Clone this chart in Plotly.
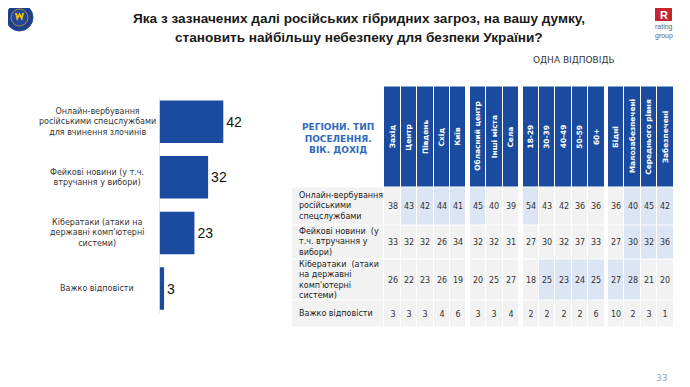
import plotly.graph_objects as go

W, H = 690, 387

# ---------------- data ----------------
title_lines = ["Яка з зазначених далі російських гібридних загроз, на вашу думку,",
               "становить найбільшу небезпеку для безпеки України?"]
bar_labels = ["Онлайн-вербування<br>російськими спецслужбами<br>для вчинення злочинів",
              "Фейкові новини (у т.ч.<br>втручання у вибори)",
              "Кібератаки (атаки на<br>державні комп'ютерні<br>системи)",
              "Важко відповісти"]
bar_values = [42, 32, 23, 3]

row_labels = ["Онлайн-вербування<br>російськими<br>спецслужбами",
              "Фейкові новини  (у<br>т.ч. втручання у<br>вибори)",
              "Кібератаки  (атаки<br>на державні<br>комп'ютерні<br>системи)",
              "Важко відповісти"]
col_groups = [["Захід", "Центр", "Південь", "Схід", "Київ"],
              ["Обласний центр", "Інші міста", "Села"],
              ["18-29", "30-39", "40-49", "50-59", "60+"],
              ["Бідні", "Малозабезпечені", "Середнього рівня", "Забезпечені"]]
table_values = [
    [38, 43, 42, 44, 41, 45, 40, 39, 54, 43, 42, 36, 36, 36, 40, 45, 42],
    [33, 32, 32, 26, 34, 32, 32, 31, 27, 30, 32, 37, 33, 27, 30, 32, 36],
    [26, 22, 23, 26, 19, 20, 25, 27, 18, 25, 23, 24, 25, 27, 28, 21, 20],
    [3, 3, 3, 4, 6, 3, 3, 4, 2, 2, 2, 2, 6, 10, 2, 3, 1],
]
highlight = [
    [0, 1, 1, 1, 1, 1, 0, 0, 1, 0, 0, 0, 0, 0, 1, 1, 1],
    [0, 0, 0, 0, 0, 0, 0, 0, 0, 0, 0, 0, 0, 0, 1, 1, 1],
    [0, 0, 0, 0, 0, 0, 0, 0, 0, 1, 1, 1, 1, 1, 1, 0, 0],
    [0, 0, 0, 0, 0, 0, 0, 0, 0, 0, 0, 0, 0, 0, 0, 0, 0],
]
table_title = "РЕГІОНИ. ТИП<br>ПОСЕЛЕННЯ.<br>ВІК. ДОХІД"
note_text = "ОДНА ВІДПОВІДЬ"
page_no = "33"

# ---------------- styles / layout constants ----------------
BLUE = "#1a4b9f"
GRAY = "#f2f2f2"
LIGHT = "#dbe5f4"
TXT = "#333333"
FONT = "DejaVu Sans"
OX, OY = 8, 8   # page body margin of the html page

LABEL_X0, LABEL_X1 = 292.0, 383.6
COL0, PITCH, GGAP = 384.3, 16.4, 3.5
ROW_EDGES = [86.5, 187.0, 225.0, 259.0, 300.0, 327.0]

# ---------------- build table heatmap ----------------
x_edges = [LABEL_X0, COL0]
col_centers = []
col_src = []      # index into data columns, or None for group gaps
x = COL0
ci = 0
for gi, g in enumerate(col_groups):
    for _ in g:
        col_centers.append(x + PITCH / 2)
        x += PITCH
        x_edges.append(x)
        col_src.append(ci)
        ci += 1
    if gi < len(col_groups) - 1:
        x += GGAP
        x_edges.append(x)
        col_src.append(None)

z, txt = [], []
z.append([None] + [None if s is None else 2 for s in col_src])
txt.append([""] * (len(col_src) + 1))
for r in range(len(table_values)):
    zr, tr = [0], [""]
    for s in col_src:
        if s is None:
            zr.append(None); tr.append("")
        else:
            zr.append(highlight[r][s]); tr.append(str(table_values[r][s]))
    z.append(zr); txt.append(tr)

fig = go.Figure()

fig.add_trace(go.Heatmap(
    x=x_edges, y=ROW_EDGES, z=z, text=txt, texttemplate="%{text}",
    textfont=dict(family=FONT, size=8, color=TXT),
    colorscale=[[0, GRAY], [0.5, LIGHT], [1, BLUE]], zmin=0, zmax=2,
    showscale=False, xgap=1, ygap=1, hoverinfo="skip",
    xaxis="x2", yaxis="y2"))

# ---------------- bar chart ----------------
fig.add_trace(go.Bar(
    x=bar_values, y=list(range(len(bar_values))), orientation="h",
    marker=dict(color=BLUE, line=dict(width=0)),
    text=[str(v) for v in bar_values], textposition="outside",
    textfont=dict(family="Liberation Sans", size=14, color="#111111"),
    cliponaxis=False, hoverinfo="skip", width=0.765))

def px_x(p):
    return (p - OX) / W

def px_y(p):
    return 1 - (p - OY) / H

fig.update_layout(
    width=W, height=H, margin=dict(l=0, r=0, t=0, b=0),
    paper_bgcolor="white", plot_bgcolor="rgba(0,0,0,0)",
    showlegend=False,
    xaxis=dict(domain=[px_x(159.5), px_x(281.0)], range=[0, 80], visible=False),
    yaxis=dict(domain=[px_y(316.3), px_y(93.9)], range=[len(bar_values) - 0.5, -0.5],
               showline=False, showticklabels=False, showgrid=False, zeroline=False),
    xaxis2=dict(domain=[0, 1], range=[OX, W + OX], visible=False, anchor="y2"),
    yaxis2=dict(domain=[0, 1], range=[H + OY, OY], visible=False, anchor="x2"),
)

ann = []
shapes = []
shapes.append(dict(type="line", xref="x", yref="y", x0=0, x1=0, y0=-0.45, y1=len(bar_values) - 0.55,
                   line=dict(color="#d0d0d0", width=1)))
for i, lab in enumerate(bar_labels):
    ann.append(dict(xref="x2", yref="y", x=97, y=i, text=lab, showarrow=False,
                    align="center", font=dict(family=FONT, size=8, color=TXT)))

ann.append(dict(xref="x2", yref="y2", x=(LABEL_X0 + LABEL_X1) / 2, y=138, text="<b>" + table_title + "</b>",
                showarrow=False, align="center", font=dict(family=FONT, size=9, color="#2e6bbd")))
for r, lab in enumerate(row_labels):
    ann.append(dict(xref="x2", yref="y2", x=LABEL_X0 + 5, y=(ROW_EDGES[r + 1] + ROW_EDGES[r + 2]) / 2,
                    text=lab, showarrow=False, xanchor="left", align="left",
                    font=dict(family=FONT, size=8, color="#222222")))
names = [n for g in col_groups for n in g]
for n, cx in zip(names, col_centers):
    ann.append(dict(xref="x2", yref="y2", x=cx, y=(ROW_EDGES[0] + ROW_EDGES[1]) / 2,
                    text="<b>" + n + "</b>", textangle=-90, showarrow=False,
                    font=dict(family=FONT, size=7.4, color="white")))

for k, t in enumerate(title_lines):
    ann.append(dict(xref="x2", yref="y2", x=359, y=18 + 19 * k, text="<b>" + t + "</b>",
                    showarrow=False, font=dict(family="Liberation Sans Narrow, Liberation Sans", size=13.6, color="#1a1a1a")))
ann.append(dict(xref="x2", yref="y2", x=574, y=60, text=note_text, showarrow=False,
                font=dict(family=FONT, size=9, color="#333333")))
ann.append(dict(xref="x2", yref="y2", x=661, y=378, text=page_no, showarrow=False,
                font=dict(family=FONT, size=9, color="#8eaacb")))

# right logo
shapes.append(dict(type="rect", xref="x2", yref="y2", x0=655, x1=672, y0=3, y1=21,
                   fillcolor="#c62630", line=dict(width=0)))
ann.append(dict(xref="x2", yref="y2", x=663.5, y=15, text="<b>R</b>", showarrow=False,
                borderpad=0, font=dict(family="Liberation Sans", size=11, color="white")))
ann.append(dict(xref="x2", yref="y2", x=664, y=26.5, text="rating", showarrow=False,
                borderpad=0, font=dict(family="Liberation Sans", size=7, color="#666666")))
ann.append(dict(xref="x2", yref="y2", x=664, y=35.5, text="group", showarrow=False,
                borderpad=0, font=dict(family="Liberation Sans", size=7, color="#666666")))

# left logo
shapes.append(dict(type="circle", xref="x2", yref="y2", x0=6, x1=33, y0=4, y1=31,
                   fillcolor="#1f3f8a", line=dict(color="#2a4d9c", width=1)))
shapes.append(dict(type="circle", xref="x2", yref="y2", x0=11, x1=28, y0=9, y1=26,
                   fillcolor="#23459a", line=dict(color="#f2c200", width=0.6)))
shapes.append(dict(type="path", xref="x2", yref="y2",
                   path="M 15 13 L 17 21 L 19.5 16 L 22 21 L 24 13 L 22 13 L 21.5 16 L 19.5 12.5 L 17.5 16 L 17 13 Z",
                   fillcolor="#f2c200", line=dict(width=0)))

fig.update_layout(annotations=ann, shapes=shapes)
fig.write_html("out.html")
